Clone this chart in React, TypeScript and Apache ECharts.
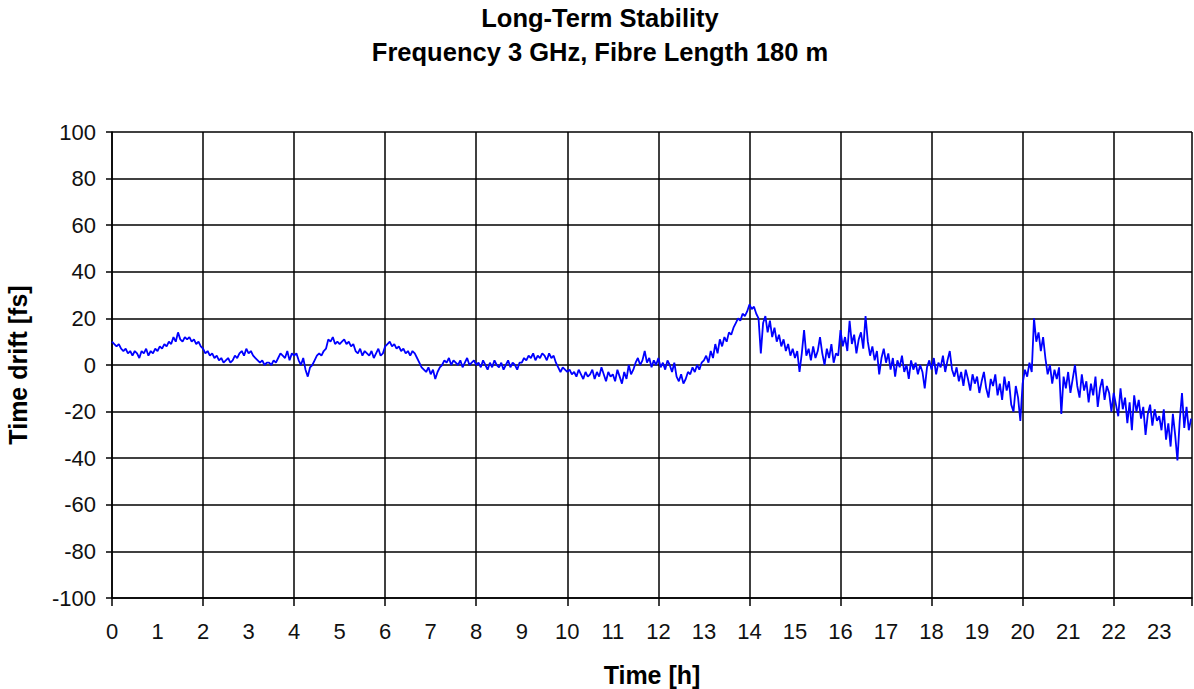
import React, { useEffect, useRef } from "react";
import * as echarts from "echarts";

const TITLE = "Long-Term Stability";
const SUBTITLE = "Frequency 3 GHz, Fibre Length 180 m";
const X_NAME = "Time [h]";
const Y_NAME = "Time drift [fs]";

// sampling interval of the recording, hours
const STEP_H = 0.05;
const X_MAX = 23.72;

// time drift [fs], one row per hour, 20 samples per hour
const drift00 = [10, 9, 8, 9, 7, 6, 7, 5, 6, 4, 6, 5, 3, 6, 5, 7, 4, 6, 5, 7];
const drift01 = [6, 8, 7, 9, 8, 10, 9, 12, 10, 14, 11, 10, 12, 11, 12, 10, 11, 9, 10, 8];
const drift02 = [7, 5, 6, 4, 5, 3, 4, 2, 3, 1, 2, 3, 1, 2, 4, 3, 5, 6, 4, 7];
const drift03 = [5, 6, 4, 3, 2, 1, 2, 0, 1, 1, 0, 2, 1, 3, 5, 4, 3, 6, 2, 5];
const drift04 = [4, 5, 2, 0, 3, -2, -5, -1, 0, 2, 4, 5, 4, 6, 7, 11, 10, 12, 9, 10];
const drift05 = [9, 10, 11, 9, 10, 8, 9, 6, 5, 7, 4, 6, 5, 4, 6, 3, 5, 7, 4, 5];
const drift06 = [8, 9, 10, 8, 9, 7, 8, 6, 7, 5, 6, 4, 6, 5, 3, 1, -1, -2, -3, -1];
const drift07 = [-4, -2, -6, -3, -1, 0, 2, 1, 3, 0, 2, 1, 0, 2, -1, 1, 3, 0, 1, 2];
const drift08 = [0, 1, -1, 2, 0, -2, 1, -1, 2, 0, -1, 1, -2, 0, 2, -1, 1, 0, -2, 1];
const drift09 = [1, 3, 2, 4, 3, 5, 2, 4, 3, 5, 4, 2, 5, 3, 4, 1, -1, -3, -1, -2];
const drift10 = [-3, -2, -4, -3, -5, -2, -4, -6, -3, -5, -4, -2, -6, -3, -5, -1, -4, -7, -3, -5];
const drift11 = [-4, -7, -2, -5, -8, -3, -6, 0, -4, -2, 1, 3, 0, 2, 6, 1, 3, -1, 2, 0];
const drift12 = [3, -1, 1, -2, 2, 0, -3, 1, -5, -7, -4, -8, -6, -3, -4, -1, -3, 0, -2, 1];
const drift13 = [2, 4, 1, 6, 3, 9, 5, 11, 8, 12, 10, 14, 13, 16, 18, 20, 19, 22, 21, 23];
const drift14 = [26, 24, 25, 22, 20, 5, 18, 21, 14, 19, 12, 16, 10, 13, 8, 11, 6, 9, 4, 7];
const drift15 = [3, 6, -3, 5, 15, 4, 7, 2, 8, 3, 6, 12, 5, 0, 7, 3, 9, 1, 5, 4];
const drift16 = [15, 8, 12, 6, 19, 9, 13, 5, 11, 14, 7, 21, 10, 4, 8, 2, 6, -4, 3, 7];
const drift17 = [1, 5, -2, 3, -5, 2, -1, 4, -3, 0, -6, 2, -2, 1, -4, 0, -3, -10, -1, 2];
const drift18 = [-2, 3, -4, 1, -1, 4, -3, 2, 6, -2, -5, -1, -7, -3, -9, -2, -6, -11, -4, -8];
const drift19 = [-5, -12, -7, -3, -10, -14, -6, -9, -4, -13, -8, -15, -5, -11, -7, -17, -20, -9, -14, -24];
const drift20 = [-8, -2, -5, 1, -3, 20, 10, 14, 6, 12, 3, -4, 0, -8, -2, -6, -1, -21, -5, -10];
const drift21 = [-3, -12, -6, 0, -9, -14, -4, -11, -7, -16, -8, -13, -5, -18, -10, -6, -15, -9, -12, -20];
const drift22 = [-12, -17, -22, -10, -19, -14, -25, -16, -28, -13, -20, -15, -23, -18, -30, -21, -17, -26, -19, -24];
const drift23 = [-22, -28, -19, -32, -25, -35, -21, -30, -41, -24, -12, -27, -18, -28, -23];

const driftValues = [
  ...drift00, ...drift01, ...drift02, ...drift03, ...drift04, ...drift05,
  ...drift06, ...drift07, ...drift08, ...drift09, ...drift10, ...drift11,
  ...drift12, ...drift13, ...drift14, ...drift15, ...drift16, ...drift17,
  ...drift18, ...drift19, ...drift20, ...drift21, ...drift22, ...drift23,
];

export default function App() {
  const ref = useRef<HTMLDivElement>(null);

  useEffect(() => {
    if (!ref.current) return;
    const chart = echarts.init(ref.current, undefined, { renderer: "svg" });
    const data = driftValues.map((v, i) => [+(i * STEP_H).toFixed(2), v]);
    const font = "'Liberation Sans', Arial, sans-serif";
    const bold = { fontFamily: font, fontSize: 25, fontWeight: "bold", color: "#000" };
    chart.setOption({
      animation: false,
      backgroundColor: "#ffffff",
      textStyle: { fontFamily: font },
      title: [
        { text: TITLE, left: 595, top: 0, textAlign: "center", textStyle: { ...bold, fontSize: 25.5 } },
        { text: SUBTITLE, left: 595, top: 34, textAlign: "center", textStyle: { ...bold, fontSize: 25.5 } },
      ],
      grid: {
        left: 112,
        top: 132,
        right: 2,
        bottom: 91,
        containLabel: false,
        outerBoundsMode: "none",
      },
      xAxis: [
        {
          type: "value",
          min: 0,
          max: X_MAX,
          interval: 1,
          name: X_NAME,
          nameLocation: "middle",
          nameGap: 64,
          nameTextStyle: bold,
          axisLine: { show: true, onZero: false, lineStyle: { color: "#000", width: 1.5 } },
          axisTick: { show: false },
          splitLine: { show: false },
          axisLabel: {
            fontFamily: font,
            fontSize: 22,
            color: "#111",
            margin: 22,
            showMaxLabel: false,
          },
        },
        {
          type: "value",
          position: "bottom",
          min: 0,
          max: X_MAX,
          interval: 2,
          axisLine: { show: false, onZero: false },
          axisTick: { show: true, length: 8, lineStyle: { color: "#000", width: 1.5 } },
          splitLine: { show: true, lineStyle: { color: "#000", width: 1.5 } },
          axisLabel: { show: false },
        },
      ],
      yAxis: {
        type: "value",
        min: -100,
        max: 100,
        interval: 20,
        name: Y_NAME,
        nameLocation: "middle",
        nameGap: 82,
        nameRotate: 90,
        nameTextStyle: bold,
        axisLine: { show: true, lineStyle: { color: "#000", width: 1.5 } },
        axisTick: { show: true, length: 6, lineStyle: { color: "#000", width: 1.5 } },
        splitLine: { show: true, lineStyle: { color: "#000", width: 1.5 } },
        axisLabel: { fontFamily: font, fontSize: 22, color: "#111", margin: 16 },
      },
      series: [
        {
          type: "line",
          xAxisIndex: 0,
          data,
          showSymbol: false,
          symbol: "none",
          lineStyle: { color: "#0000ff", width: 1.8 },
          itemStyle: { color: "#0000ff" },
        },
      ],
    });
    return () => chart.dispose();
  }, []);

  return (
    <div
      ref={ref}
      style={{ position: "absolute", left: 0, top: 0, width: 1194, height: 689 }}
    />
  );
}
